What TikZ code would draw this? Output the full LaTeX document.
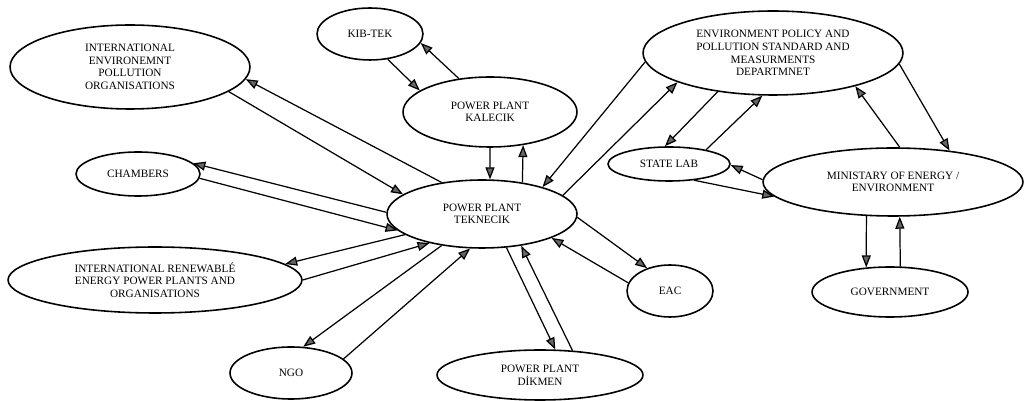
\documentclass[tikz,border=0pt]{standalone}
\usepackage{fontspec}
\setmainfont{Liberation Serif}
\usetikzlibrary{shapes.geometric,arrows.meta}
\tikzset{
  blob/.style={draw, ellipse, line width=0.9pt, inner sep=0pt, align=center,
               font=\fontsize{6.4}{7.2}\selectfont},
  link/.style={line width=0.7pt, -{Triangle[length=0.24cm,width=0.18cm,fill=black!60]}}
}
\begin{document}
\begin{tikzpicture}[x=0.02cm, y=-0.02cm]
\useasboundingbox (0,0) rectangle (1024,401);

\node[blob, minimum width=4.8cm,  minimum height=1.68cm] (intenv)   at (130,67)  {INTERNATIONAL\\ENVIRONEMNT\\POLLUTION\\ORGANISATIONS};
\node[blob, minimum width=2.48cm, minimum height=0.88cm] (chambers) at (138,174) {CHAMBERS};
\node[blob, minimum width=5.88cm, minimum height=1.32cm] (intren)   at (155,280) {INTERNATIONAL RENEWABLÉ\\ENERGY POWER PLANTS AND\\ORGANISATIONS};
\node[blob, minimum width=2.44cm, minimum height=1.04cm] (ngo)      at (291,373) {NGO};
\node[blob, minimum width=2.12cm, minimum height=1.04cm] (kibtek)   at (370,34)  {KIB-TEK};
\node[blob, minimum width=3.48cm, minimum height=1.4cm]  (kalecik)  at (490,112) {POWER PLANT\\KALECIK};
\node[blob, minimum width=3.8cm,  minimum height=1.36cm] (tek)      at (482,214) {POWER PLANT\\TEKNECIK};
\node[blob, minimum width=4.12cm, minimum height=1.0cm]  (dikmen)   at (540,375) {POWER PLANT\\DİKMEN};
\node[blob, minimum width=1.72cm, minimum height=1.04cm] (eac)      at (670,291) {EAC};
\node[blob, minimum width=5.2cm,  minimum height=1.68cm] (envpol)   at (773,53)  {ENVIRONMENT POLICY AND\\POLLUTION STANDARD AND\\MEASURMENTS\\DEPARTMNET};
\node[blob, minimum width=2.44cm, minimum height=0.68cm] (statelab) at (669,164) {STATE LAB};
\node[blob, minimum width=5.2cm,  minimum height=1.36cm] (ministry) at (893,182) {MINISTARY OF ENERGY /\\ENVIRONMENT};
\node[blob, minimum width=3.12cm, minimum height=1.0cm]  (gov)      at (890,292) {GOVERNMENT};

% one arrow each way between the pairs
\draw[link] (tek.142) -- (intenv.-6);
\draw[link] (intenv.-14) -- (tek.166);
\draw[link] (tek.179) -- (chambers.11);
\draw[link] (chambers.-4) -- (tek.-169);
\draw[link] (tek.-165) -- (intren.7);
\draw[link] (intren.0) -- (tek.-151);
\draw[link] (tek.-142) -- (ngo.65);
\draw[link] (ngo.15) -- (tek.-109);
\draw[link] (kalecik.-90) -- (tek.77);
\draw[link] (tek.38) -- (kalecik.-45);
\draw[link] (kibtek.-55) -- (kalecik.163);
\draw[link] (kalecik.133) -- (kibtek.-10);
\draw[link] (envpol.-176) -- (tek.24);
\draw[link] (tek.13) -- (envpol.-163);
\draw[link] (tek.-2) -- (eac.135);
\draw[link] (eac.169) -- (tek.-19);
\draw[link] (tek.-54) -- (dikmen.59);
\draw[link] (dikmen.37) -- (tek.-39);

% right hand group
\draw[link] (envpol.-145) -- (statelab.103);
\draw[link] (statelab.21) -- (envpol.-104);
\draw[link] (ministry.179) -- (statelab.-1);
\draw[link] (statelab.-33) -- (ministry.-173);
\draw[link] (ministry.79) -- (envpol.-22);
\draw[link] (envpol.-5) -- (ministry.29);
\draw[link] (ministry.-128) -- (gov.134);
\draw[link] (gov.68) -- (ministry.-79);
\end{tikzpicture}
\end{document}
